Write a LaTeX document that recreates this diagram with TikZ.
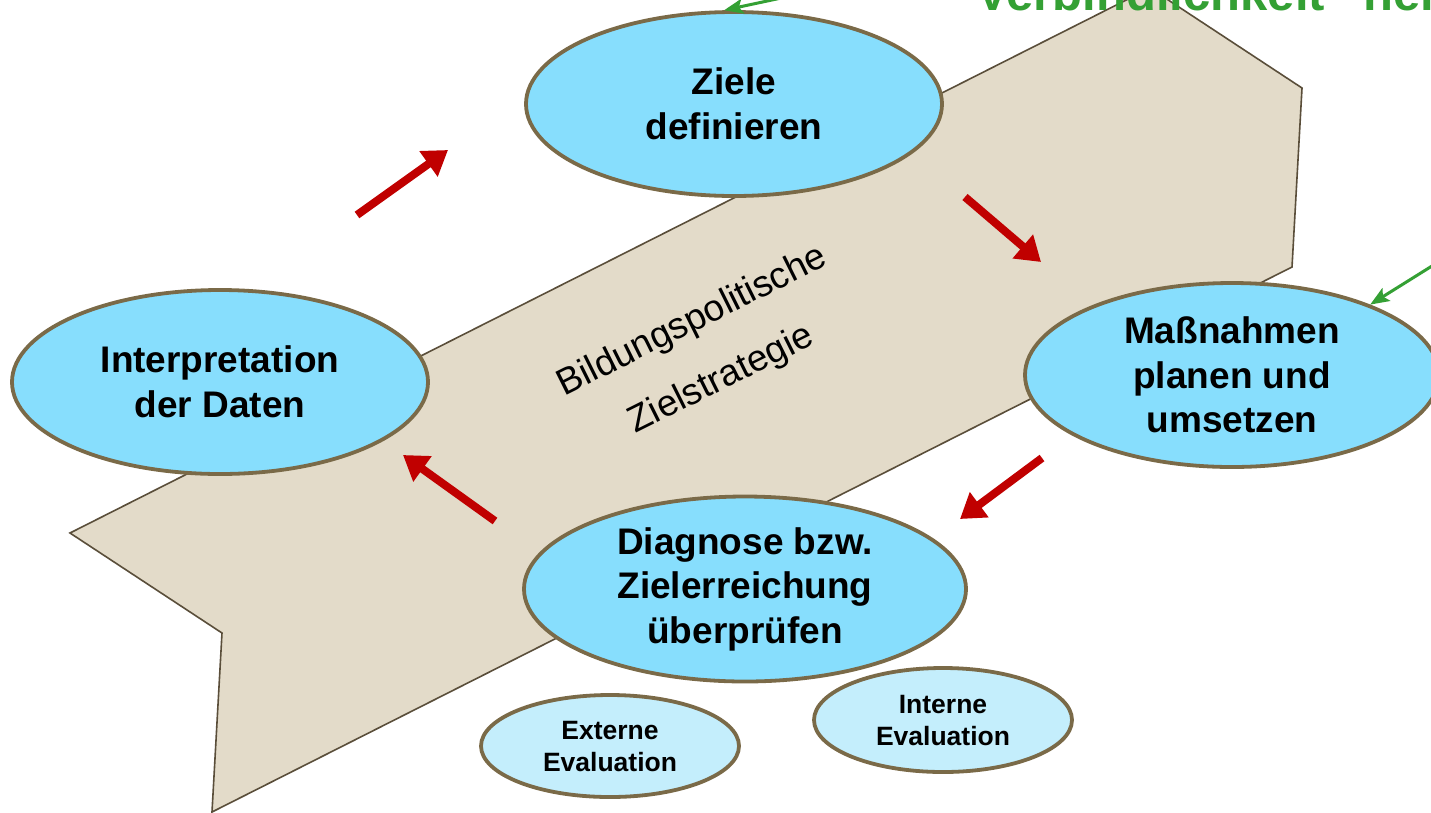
\documentclass[tikz,border=0pt]{standalone}
\usepackage{fontspec}
\setmainfont{Liberation Sans}
\usetikzlibrary{shapes.geometric,arrows.meta}
\definecolor{bandtan}{RGB}{227,219,201}
\definecolor{bandline}{RGB}{90,78,58}
\definecolor{stageblue}{RGB}{135,222,253}
\definecolor{evalblue}{RGB}{196,238,252}
\definecolor{stageline}{RGB}{122,106,72}
\definecolor{arrowred}{RGB}{192,0,0}
\definecolor{notegreen}{RGB}{52,160,52}

\begin{document}
\begin{tikzpicture}[x=1pt,y=-1pt,
	band/.style={draw=bandline, line width=1.6pt, fill=bandtan, line join=miter},
	stage/.style={ellipse, draw=stageline, line width=3.8pt, fill=stageblue, inner sep=-10pt, align=center, font=\fontsize{37}{44.5}\selectfont\bfseries},
	evalnode/.style={stage, fill=evalblue, font=\fontsize{26.5}{32}\selectfont\bfseries},
	redarrow/.style={draw=arrowred, line width=8pt, -{Triangle[length=24pt,width=30pt]}},
	notearrow/.style={draw=notegreen, line width=3pt, -{Stealth[length=19pt,width=15pt,inset=4pt]}}]
		\clip (0,0) rectangle (1431,812);
		\fill [white] (0,0) rectangle (1431,812);
		\draw [band] (70,533) -- (222,633) -- (212,812) -- (1292,267) -- (1302,88) -- (1150,-12) -- cycle;
		\node [rotate=26.5, align=center, font=\fontsize{37}{65}\selectfont] (strategie) at (707,351) {Bildungspolitische\\Zielstrategie};
		\node [stage, minimum width=416pt, minimum height=184pt] (ziele) at (734,104) {Ziele\\definieren};
		\node [stage, minimum width=414pt, minimum height=184pt] (massnahmen) at (1232,375) {Maßnahmen\\planen und\\umsetzen};
		\node [stage, minimum width=442pt, minimum height=185pt] (diagnose) at (745,589) {Diagnose bzw.\\Zielerreichung\\überprüfen};
		\node [stage, minimum width=416pt, minimum height=184pt] (interpretation) at (220,382) {Interpretation\\der Daten};
		\node [evalnode, minimum width=258pt, minimum height=102pt] (extern) at (610,746) {Externe\\Evaluation};
		\node [evalnode, minimum width=258pt, minimum height=104pt] (intern) at (943,720) {Interne\\Evaluation};
		\coordinate (r1a) at (357,215);
		\coordinate (r1b) at (448,150);
		\coordinate (r2a) at (965,197);
		\coordinate (r2b) at (1041,262);
		\coordinate (r3a) at (1042,458);
		\coordinate (r3b) at (960,519);
		\coordinate (r4a) at (495,521);
		\coordinate (r4b) at (403,455);
		\draw [redarrow] (r1a) -- (r1b);
		\draw [redarrow] (r2a) -- (r2b);
		\draw [redarrow] (r3a) -- (r3b);
		\draw [redarrow] (r4a) -- (r4b);
		\coordinate (g1) at (800,-6);
		\coordinate (g2) at (1480,236);
		\draw [notearrow] (g1) -- (ziele.96);
		\draw [notearrow] (g2) -- (massnahmen.27);
		\node [anchor=base west, text=notegreen, font=\fontsize{49}{58}\selectfont\bfseries] (note) at (973,10) {Verbindlichkeit ``herstellen''};
\end{tikzpicture}
\end{document}
